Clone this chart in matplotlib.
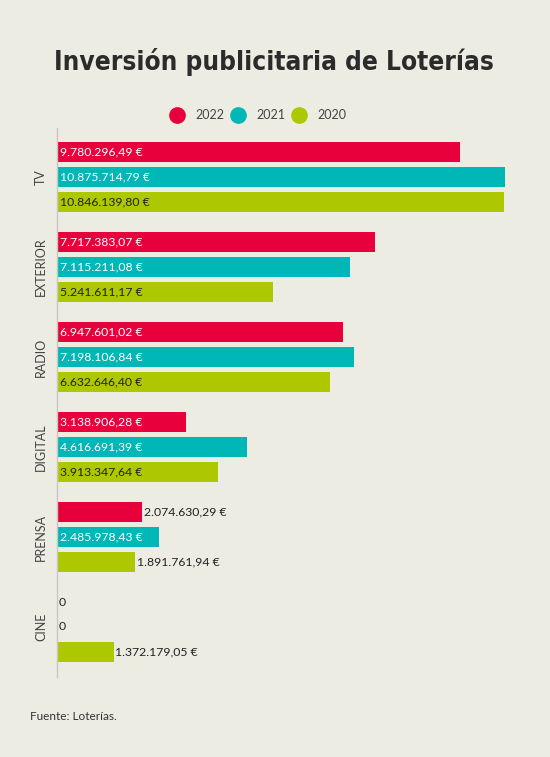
import matplotlib
matplotlib.use("Agg")
import matplotlib.pyplot as plt
from matplotlib.lines import Line2D

categories = ["TV", "EXTERIOR", "RADIO", "DIGITAL", "PRENSA", "CINE"]
years = ["2022", "2021", "2020"]
v2022 = [9780296.49, 7717383.07, 6947601.02, 3138906.28, 2074630.29, 0]
v2021 = [10875714.79, 7115211.08, 7198106.84, 4616691.39, 2485978.43, 0]
v2020 = [10846139.80, 5241611.17, 6632646.40, 3913347.64, 1891761.94, 1372179.05]
labels2022 = ["9.780.296,49 €", "7.717.383,07 €", "6.947.601,02 €", "3.138.906,28 €", "2.074.630,29 €", "0"]
labels2021 = ["10.875.714,79 €", "7.115.211,08 €", "7.198.106,84 €", "4.616.691,39 €", "2.485.978,43 €", "0"]
labels2020 = ["10.846.139,80 €", "5.241.611,17 €", "6.632.646,40 €", "3.913.347,64 €", "1.891.761,94 €", "1.372.179,05 €"]

colors = ["#E8003D", "#00B7B7", "#ADC800"]
inside_txt = ["white", "white", "#222222"]
bg = "#EDECE3"

fig = plt.figure(figsize=(5.5, 7.57), dpi=100, facecolor=bg)
W, H = 550, 757
ax = fig.add_axes([57 / W, 1 - 677 / H, 448 / W, (677 - 128) / H])
ax.set_facecolor(bg)

series = [v2022, v2021, v2020]
slabels = [labels2022, labels2021, labels2020]
step = 25 / 90
bh = 20 / 90
for k, (vals, labs) in enumerate(zip(series, slabels)):
    ys = [i + (k - 1) * step for i in range(len(categories))]
    ax.barh(ys, vals, height=bh, color=colors[k], edgecolor="none")
    for y, v, lab in zip(ys, vals, labs):
        if v >= 2.2e6:
            ax.text(0.08e6, y, lab, va="center", ha="left", color=inside_txt[k],
                    fontsize=8.8, family="Lato")
        else:
            ax.text(v + 0.04e6, y, lab, va="center", ha="left", color="#222222",
                    fontsize=8.8, family="Lato")

ax.set_xlim(0, max(v2021))
ax.set_ylim(5 + 50 / 90, -49 / 90)
ax.set_xticks([])
ax.set_yticks([])
for s in ["top", "right", "bottom"]:
    ax.spines[s].set_visible(False)
ax.spines["left"].set_color("#C8C8C0")
ax.spines["left"].set_linewidth(1)

for i, c in enumerate(categories):
    ax.text(-16 / 448 * max(v2021), i, c, rotation=90, va="center", ha="center",
            fontsize=9, family="Lato", color="#444444", clip_on=False)

fig.text(274 / W, 1 - 62 / H, "Inversión publicitaria de Loterías", ha="center", va="center",
         fontsize=18.8, fontweight="bold", fontstretch="condensed", family="DejaVu Sans",
         color="#2B2B2B")

legend_x = [177, 238, 299]
for k, yr in enumerate(years):
    fig.add_artist(Line2D([legend_x[k] / W], [1 - 115 / H], marker="o", markersize=11,
                          color=colors[k], linestyle="none", transform=fig.transFigure))
    fig.text((legend_x[k] + 18) / W, 1 - 115 / H, yr, ha="left", va="center",
             fontsize=9, family="Lato", color="#444444")

fig.text(30 / W, 1 - 717 / H, "Fuente: Loterías.", ha="left", va="center",
         fontsize=8.5, family="Lato", color="#333333")

fig.savefig("out.png", dpi=100, facecolor=bg)
